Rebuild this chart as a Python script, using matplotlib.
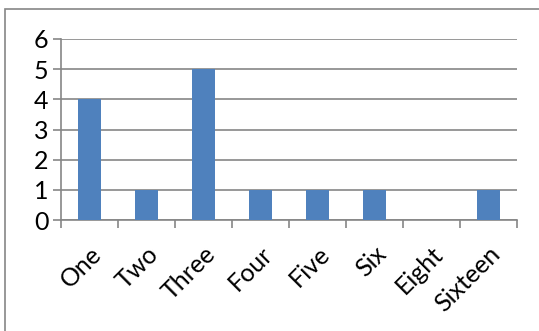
import matplotlib
matplotlib.use("Agg")
from matplotlib import pyplot as plt
from matplotlib.patches import Rectangle
import numpy as np

categories = ["One", "Two", "Three", "Four", "Five", "Six", "Eight", "Sixteen"]
counts = [4, 1, 5, 1, 1, 1, 0, 1]
y_ticks = [0, 1, 2, 3, 4, 5, 6]

plt.rcParams['font.family'] = ['Lato', 'DejaVu Sans']

W, H = 539, 331
fig = plt.figure(figsize=(W / 100, H / 100), dpi=100)
ax = fig.add_axes([61 / W, 1 - 220 / H, (517 - 61) / W, (220 - 39) / H])

grid_col = "#868686"
x = np.arange(len(categories))
ax.bar(x, counts, width=0.4, color="#4F81BD", zorder=3)

ax.set_xlim(-0.5, len(categories) - 0.5)
ax.set_ylim(0, 6)
ax.set_yticks(y_ticks)
ax.yaxis.grid(True, color=grid_col, linewidth=1.2, zorder=0)

# category labels at centres, ticks at boundaries
ax.set_xticks(x)
ax.set_xticklabels(categories, rotation=45, ha="right", va="top",
                   rotation_mode="anchor")
ax.set_xticks(np.arange(len(categories) + 1) - 0.5, minor=True)
ax.tick_params(axis="x", which="major", length=0, pad=16, labelsize=18)
ax.tick_params(axis="x", which="minor", length=6, width=1.2, color=grid_col)
ax.tick_params(axis="y", length=6, width=1.2, color=grid_col, labelsize=18, pad=3)

for side in ["top", "right"]:
    ax.spines[side].set_visible(False)
for side in ["left", "bottom"]:
    ax.spines[side].set_color(grid_col)
    ax.spines[side].set_linewidth(1.2)

# chart border
fig.patches.append(Rectangle((5 / W, -0.1), 1.1, 1 - 9 / H + 0.1,
                             transform=fig.transFigure, fill=False,
                             edgecolor="#868686", linewidth=1.2))

fig.savefig("out.png", dpi=100)
